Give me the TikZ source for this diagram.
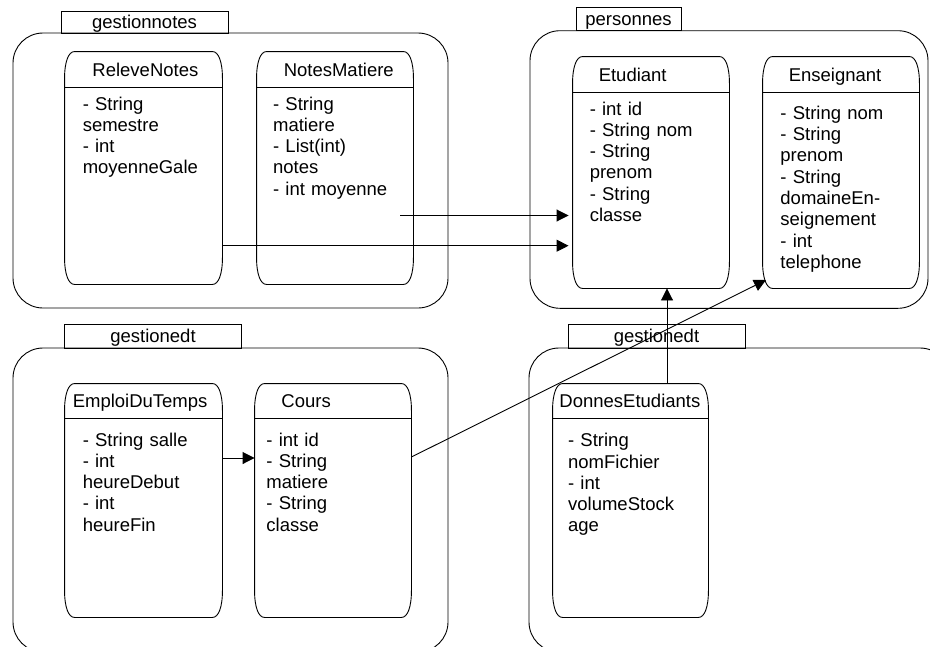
\documentclass[tikz,border=0pt]{standalone}
\usepackage{fontspec}
\setmainfont{Liberation Sans}
\usetikzlibrary{arrows.meta}
\newcommand\umlbox[2]{%
  \draw[classline] ([xshift=10pt]#1.north west) -- ([xshift=-10pt]#1.north east)
    .. controls ([xshift=-4pt]#1.north east) and ([yshift=-10pt]#1.north east) .. ([yshift=-27pt]#1.north east)
    -- ([yshift=27pt]#1.south east)
    .. controls ([yshift=10pt]#1.south east) and ([xshift=-4pt]#1.south east) .. ([xshift=-10pt]#1.south east)
    -- ([xshift=10pt]#1.south west)
    .. controls ([xshift=4pt]#1.south west) and ([yshift=10pt]#1.south west) .. ([yshift=27pt]#1.south west)
    -- ([yshift=-27pt]#1.north west)
    .. controls ([yshift=-10pt]#1.north west) and ([xshift=4pt]#1.north west) .. cycle;
  \draw[classline] ([yshift=-#2pt]#1.north west) -- ([yshift=-#2pt]#1.north east);}
\begin{document}
\begin{tikzpicture}[x=1pt,y=-1pt,
  line width=0.9pt,
  every node/.style={font=\fontsize{18.5}{21.3}\selectfont},
  classline/.style={line width=0.9pt},
  pkg/.style={draw, rounded corners=30pt, inner sep=0pt},
  tab/.style={draw, inner sep=0pt, text height=13pt, text depth=0pt},
  cls/.style={draw=none, inner sep=0pt},
  title/.style={anchor=base west, inner sep=0pt},
  attrs/.style={anchor=base west, inner sep=0pt, text width=150pt, align=left},
  arr/.style={-{Triangle[length=12pt,width=12pt]}},
]
\useasboundingbox (0,0) rectangle (930,646);
\clip (0,0) rectangle (930,646);

% packages
\node[pkg, minimum width=435pt, minimum height=275pt] (p1) at (230.5,170.5) {};
\node[pkg, minimum width=398pt, minimum height=277.6pt] (p2) at (729,169.5) {};
\node[pkg, minimum width=435pt, minimum height=304pt] (p3) at (230.5,500) {};
\node[pkg, minimum width=421pt, minimum height=304pt] (p4) at (739.5,500) {};

\node[tab, minimum width=167pt, minimum height=22pt] (t1) at (144.5,22) {gestionnotes};
\node[tab, minimum width=105pt, minimum height=23.4pt] (t2) at (628.5,19) {personnes};
\node[tab, minimum width=177.4pt, minimum height=24pt] (t3) at (153,336) {gestionedt};
\node[tab, minimum width=177pt, minimum height=24pt] (t4) at (656.5,336) {gestionedt};

% classes
\node[cls, minimum width=157pt, minimum height=232pt] (rn) at (143.5,168) {};
\node[cls, minimum width=156pt, minimum height=232pt] (nm) at (335,168) {};
\node[cls, minimum width=156pt, minimum height=231pt] (et) at (651,172.5) {};
\node[cls, minimum width=156pt, minimum height=231pt] (en) at (841,172.5) {};
\node[cls, minimum width=157pt, minimum height=233pt] (edt) at (143.5,500.5) {};
\node[cls, minimum width=156pt, minimum height=233pt] (co) at (333,500.5) {};
\node[cls, minimum width=155pt, minimum height=233pt] (de) at (630.5,500.5) {};

\umlbox{rn}{36}
\umlbox{nm}{36}
\umlbox{et}{35.6}
\umlbox{en}{35.6}
\umlbox{edt}{35}
\umlbox{co}{35}
\umlbox{de}{35}

\node[title] (rnT) at (92,76) {ReleveNotes};
\node[title] (nmT) at (283.3,76) {NotesMatiere};
\node[title] (etT) at (598.3,81) {Etudiant};
\node[title] (enT) at (788.3,81) {Enseignant};
\node[title] (edtT) at (72.3,407) {EmploiDuTemps};
\node[title] (coT) at (281,407) {Cours};
\node[title] (deT) at (559,407) {DonnesEtudiants};

\node[attrs] (rnA) at (82.3,110) {- String\\semestre\\- int\\moyenneGale};
\node[attrs] (nmA) at (272.7,110) {- String\\matiere\\- List(int)\\notes\\- int moyenne};
\node[attrs] (etA) at (589.3,115) {- int id\\- String nom\\- String\\prenom\\- String\\classe};
\node[attrs] (enA) at (780,119.3) {- String nom\\- String\\prenom\\- String\\domaineEn-\\seignement\\- int\\telephone};
\node[attrs] (edtA) at (82.3,446) {- String salle\\- int\\heureDebut\\- int\\heureFin};
\node[attrs] (coA) at (266,446) {- int id\\- String\\matiere\\- String\\classe};
\node[attrs] (deA) at (567.7,446.7) {- String\\nomFichier\\- int\\volumeStock\\age};

% connectors
\coordinate (a1s) at (400,215.5);
\coordinate (a4e) at (766,280);
\draw[arr, shorten >=4pt] (a1s) -- (et.west |- a1s);
\draw[arr, shorten >=4pt] (rn.east |- 0,245.7) -- (et.west |- 0,245.7);
\draw[arr] (de.north -| 667,0) -- (et.south -| 667,0);
\draw[arr] (co.east |- 0,457) -- (a4e);
\draw[arr] (edt.east |- 0,458) -- (co.west |- 0,458);
\end{tikzpicture}
\end{document}
